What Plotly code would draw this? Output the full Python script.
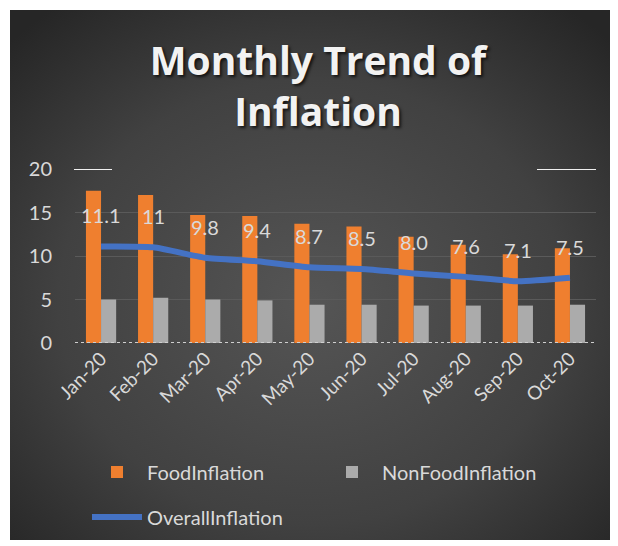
import base64

import plotly.graph_objects as go

# Data
months = ["Jan-20", "Feb-20", "Mar-20", "Apr-20", "May-20",
          "Jun-20", "Jul-20", "Aug-20", "Sep-20", "Oct-20"]
food_inflation = [17.5, 17.0, 14.7, 14.6, 13.7, 13.4, 12.2, 11.3, 10.2, 10.9]
nonfood_inflation = [5.0, 5.2, 5.0, 4.9, 4.4, 4.4, 4.3, 4.3, 4.3, 4.4]
overall_inflation = [11.1, 11.0, 9.8, 9.4, 8.7, 8.5, 8.0, 7.6, 7.1, 7.5]
overall_labels = ["11.1", "11", "9.8", "9.4", "8.7", "8.5", "8.0", "7.6", "7.1", "7.5"]
y_ticks = [0, 5, 10, 15, 20]

# the page body keeps its default 8px margin, so the figure is 8px smaller
OFF = 8
W, H = 618 - OFF, 546 - OFF
M_L, M_R, M_T, M_B = 75 - OFF, 618 - 596, 169 - OFF, 546 - 343
TEXT = "#d9d9d9"
FONT = "Lato"

# Dark radial-gradient card behind the chart (as an svg image)
svg = (
    '<svg xmlns="http://www.w3.org/2000/svg" width="602" height="530">'
    '<defs><radialGradient id="g" cx="50%" cy="55%" r="70%">'
    '<stop offset="0%" stop-color="#555555"/>'
    '<stop offset="60%" stop-color="#414141"/>'
    '<stop offset="100%" stop-color="#262626"/>'
    '</radialGradient></defs>'
    '<rect width="602" height="530" fill="url(#g)"/></svg>'
)
bg_src = "data:image/svg+xml;base64," + base64.b64encode(svg.encode()).decode()

pw, ph = W - M_L - M_R, H - M_T - M_B


def px_x(x):
    # screen x -> paper x
    return (x - OFF - M_L) / pw


def px_y(y):
    # screen y -> paper y
    return (H - M_B - (y - OFF)) / ph


fig = go.Figure()

fig.add_trace(go.Bar(
    name="FoodInflation",
    x=months,
    y=food_inflation,
    marker=dict(color="#ef7f2f", line=dict(width=0)),
    legend="legend",
))

fig.add_trace(go.Bar(
    name="NonFoodInflation",
    x=months,
    y=nonfood_inflation,
    marker=dict(color="#ababab", line=dict(width=0)),
    legend="legend",
))

fig.add_trace(go.Scatter(
    name="OverallInflation",
    x=months,
    y=overall_inflation,
    mode="lines",
    line=dict(color="#4472c4", width=6, shape="spline", smoothing=0.6),
    legend="legend2",
))

# data labels above the overall line
for m, v, t in zip(months, overall_inflation, overall_labels):
    fig.add_annotation(
        x=m, y=v, text=t, showarrow=False, yshift=31,
        font=dict(family=FONT, size=20, color=TEXT),
    )

# axis line at zero and small white dashes at the top
fig.add_shape(type="line", xref="paper", yref="y", x0=0, x1=1, y0=0, y1=0,
              line=dict(color="#cfcfcf", width=2, dash="dot"))
fig.add_shape(type="line", xref="paper", yref="y", x0=px_x(74), x1=px_x(112),
              y0=20, y1=20, line=dict(color="#f0f0f0", width=2))
fig.add_shape(type="line", xref="paper", yref="y", x0=px_x(537), x1=px_x(596),
              y0=20, y1=20, line=dict(color="#f0f0f0", width=2))

fig.add_layout_image(
    source=bg_src, xref="paper", yref="paper",
    x=px_x(10), y=px_y(10), sizex=602 / pw, sizey=530 / ph,
    xanchor="left", yanchor="top", sizing="stretch", layer="below",
)

legend_style = dict(
    orientation="h",
    xanchor="left",
    yanchor="middle",
    font=dict(family=FONT, size=20, color=TEXT),
    itemwidth=50,
    bgcolor="rgba(0,0,0,0)",
)

fig.update_layout(
    width=W,
    height=H,
    margin=dict(l=M_L, r=M_R, t=M_T, b=M_B, autoexpand=False),
    paper_bgcolor="white",
    plot_bgcolor="rgba(0,0,0,0)",
    title=dict(
        text="Monthly Trend of<br>Inflation",
        x=(318 - OFF) / W, xanchor="center",
        y=1 - (75 - OFF) / H, yref="container", yanchor="middle",
        font=dict(family="Open Sans", size=39, color="#f2f2f2", weight="bold",
                  shadow="2px 2px 3px rgba(0,0,0,0.7)"),
    ),
    barmode="group",
    bargap=0.42,
    bargroupgap=0,
    xaxis=dict(
        tickangle=-45,
        tickfont=dict(family=FONT, size=19, color=TEXT),
        showgrid=False,
        showline=False,
        zeroline=False,
        automargin=False,
    ),
    yaxis=dict(
        range=[0, 20],
        tickvals=y_ticks,
        tickfont=dict(family=FONT, size=20, color=TEXT),
        ticks="outside",
        ticklen=18,
        tickcolor="rgba(0,0,0,0)",
        showgrid=True,
        gridcolor="#5a5a5a",
        gridwidth=1,
        zeroline=False,
        showline=False,
        automargin=False,
    ),
    legend=dict(legend_style, x=px_x(87), y=px_y(472), entrywidth=170),
    legend2=dict(legend_style, x=px_x(87), y=px_y(517)),
    showlegend=True,
)

fig.write_html("out.html")
